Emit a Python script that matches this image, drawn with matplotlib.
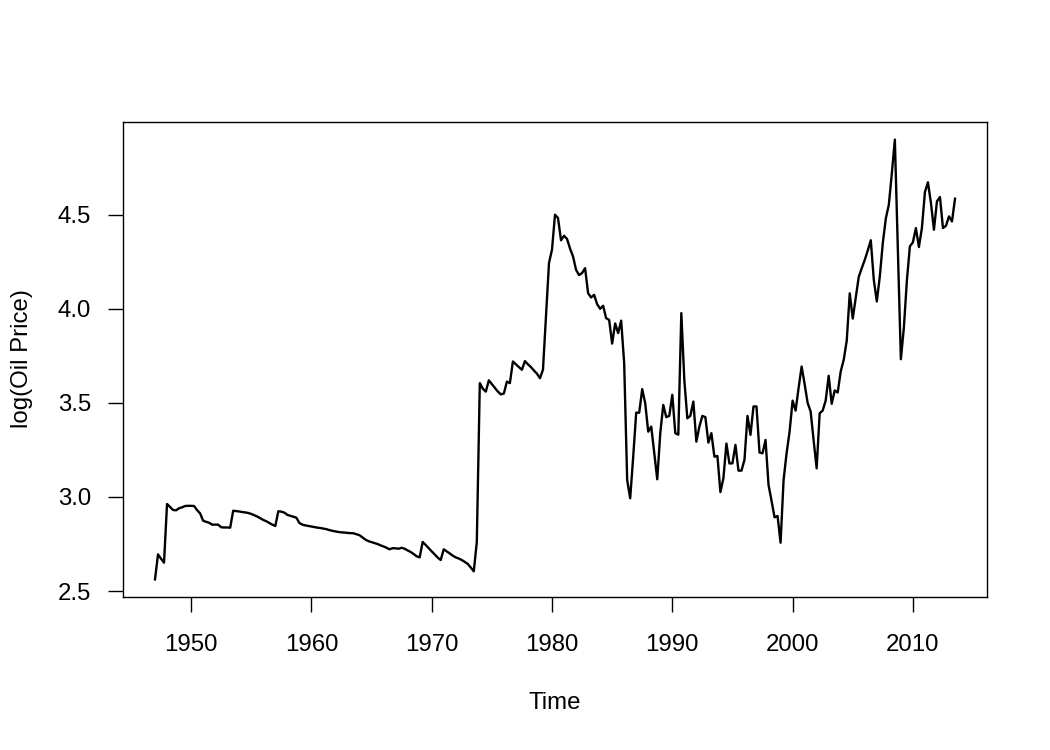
import numpy as np
import matplotlib
matplotlib.use("Agg")
import matplotlib.pyplot as plt

start_year = 1947.0
freq = 4
log_oil_price = [
    2.562, 2.695, 2.672, 2.651, 2.963, 2.947, 2.931, 2.929, 2.940, 2.945,
    2.952, 2.953, 2.953, 2.952, 2.930, 2.913, 2.874, 2.868, 2.863, 2.853,
    2.853, 2.853, 2.839, 2.838, 2.838, 2.837, 2.927, 2.925, 2.923, 2.920,
    2.918, 2.915, 2.910, 2.903, 2.896, 2.887, 2.878, 2.871, 2.862, 2.853,
    2.846, 2.924, 2.922, 2.917, 2.905, 2.900, 2.895, 2.890, 2.862, 2.853,
    2.849, 2.846, 2.843, 2.840, 2.837, 2.835, 2.832, 2.829, 2.824, 2.820,
    2.817, 2.814, 2.812, 2.811, 2.809, 2.808, 2.807, 2.802, 2.797, 2.785,
    2.773, 2.765, 2.760, 2.755, 2.750, 2.743, 2.737, 2.730, 2.722, 2.728,
    2.727, 2.725, 2.730, 2.725, 2.716, 2.708, 2.697, 2.685, 2.679, 2.761,
    2.745, 2.728, 2.711, 2.695, 2.678, 2.665, 2.722, 2.711, 2.700, 2.688,
    2.679, 2.673, 2.665, 2.655, 2.644, 2.625, 2.605, 2.761, 3.605, 3.575,
    3.560, 3.620, 3.600, 3.580, 3.560, 3.545, 3.550, 3.613, 3.605, 3.720,
    3.705, 3.690, 3.676, 3.722, 3.705, 3.690, 3.672, 3.655, 3.631, 3.676,
    3.960, 4.243, 4.314, 4.500, 4.482, 4.364, 4.388, 4.371, 4.320, 4.278,
    4.207, 4.179, 4.190, 4.216, 4.083, 4.060, 4.074, 4.025, 4.000, 4.016,
    3.950, 3.941, 3.815, 3.922, 3.871, 3.937, 3.711, 3.090, 2.993, 3.214,
    3.448, 3.448, 3.573, 3.498, 3.347, 3.374, 3.232, 3.094, 3.339, 3.489,
    3.424, 3.431, 3.543, 3.339, 3.331, 3.977, 3.622, 3.418, 3.431, 3.507,
    3.294, 3.374, 3.431, 3.424, 3.289, 3.339, 3.214, 3.218, 3.026, 3.100,
    3.284, 3.178, 3.179, 3.277, 3.140, 3.140, 3.197, 3.431, 3.330, 3.481,
    3.481, 3.236, 3.232, 3.303, 3.064, 2.980, 2.892, 2.899, 2.757, 3.090,
    3.232, 3.347, 3.512, 3.459, 3.580, 3.693, 3.600, 3.500, 3.454, 3.300,
    3.152, 3.445, 3.459, 3.512, 3.644, 3.495, 3.566, 3.555, 3.667, 3.729,
    3.830, 4.082, 3.948, 4.060, 4.170, 4.216, 4.260, 4.310, 4.364, 4.154,
    4.039, 4.172, 4.350, 4.480, 4.553, 4.720, 4.899, 4.320, 3.732, 3.900,
    4.150, 4.332, 4.353, 4.429, 4.328, 4.430, 4.620, 4.672, 4.562, 4.420,
    4.571, 4.594, 4.429, 4.441, 4.491, 4.464, 4.585,
]
x_ticks = [1950, 1960, 1970, 1980, 1990, 2000, 2010]
y_ticks = [2.5, 3.0, 3.5, 4.0, 4.5]
x_label = "Time"
y_label = "log(Oil Price)"

values = np.array(log_oil_price)
time = start_year + np.arange(len(values)) / freq

plt.rcParams['font.family'] = ['Liberation Sans', 'DejaVu Sans']

fig = plt.figure(figsize=(10.5, 7.5), dpi=100)
ax = fig.add_axes([123/1050, 1 - 597/750, (987-123)/1050, (597-122)/750])
ax.plot(time, values, color='black', linewidth=1.7)

def r_lim(a):
    lo, hi = float(np.min(a)), float(np.max(a))
    d = (hi - lo) * 0.04
    return lo - d, hi + d

ax.set_xlim(*r_lim(time))
ax.set_ylim(*r_lim(values))
ax.set_xticks(x_ticks)
ax.set_xticklabels([str(t) for t in x_ticks])
ax.set_yticks(y_ticks)
ax.set_yticklabels([f"{t:.1f}" for t in y_ticks])
ax.tick_params(axis='both', direction='out', length=10.8, width=1.0,
               labelsize=17.3, colors='black')
ax.tick_params(axis='x', pad=16)
ax.tick_params(axis='y', pad=12)
for s in ax.spines.values():
    s.set_linewidth(1.0)
    s.set_color('black')

fig.text(555/1050, 1 - 703/750, x_label, ha='center', va='center', fontsize=17.3)
fig.text(22/1050, 1 - 359/750, y_label, ha='center', va='center', rotation=90, fontsize=17.3)

fig.savefig("out.png", dpi=100, facecolor='white')
